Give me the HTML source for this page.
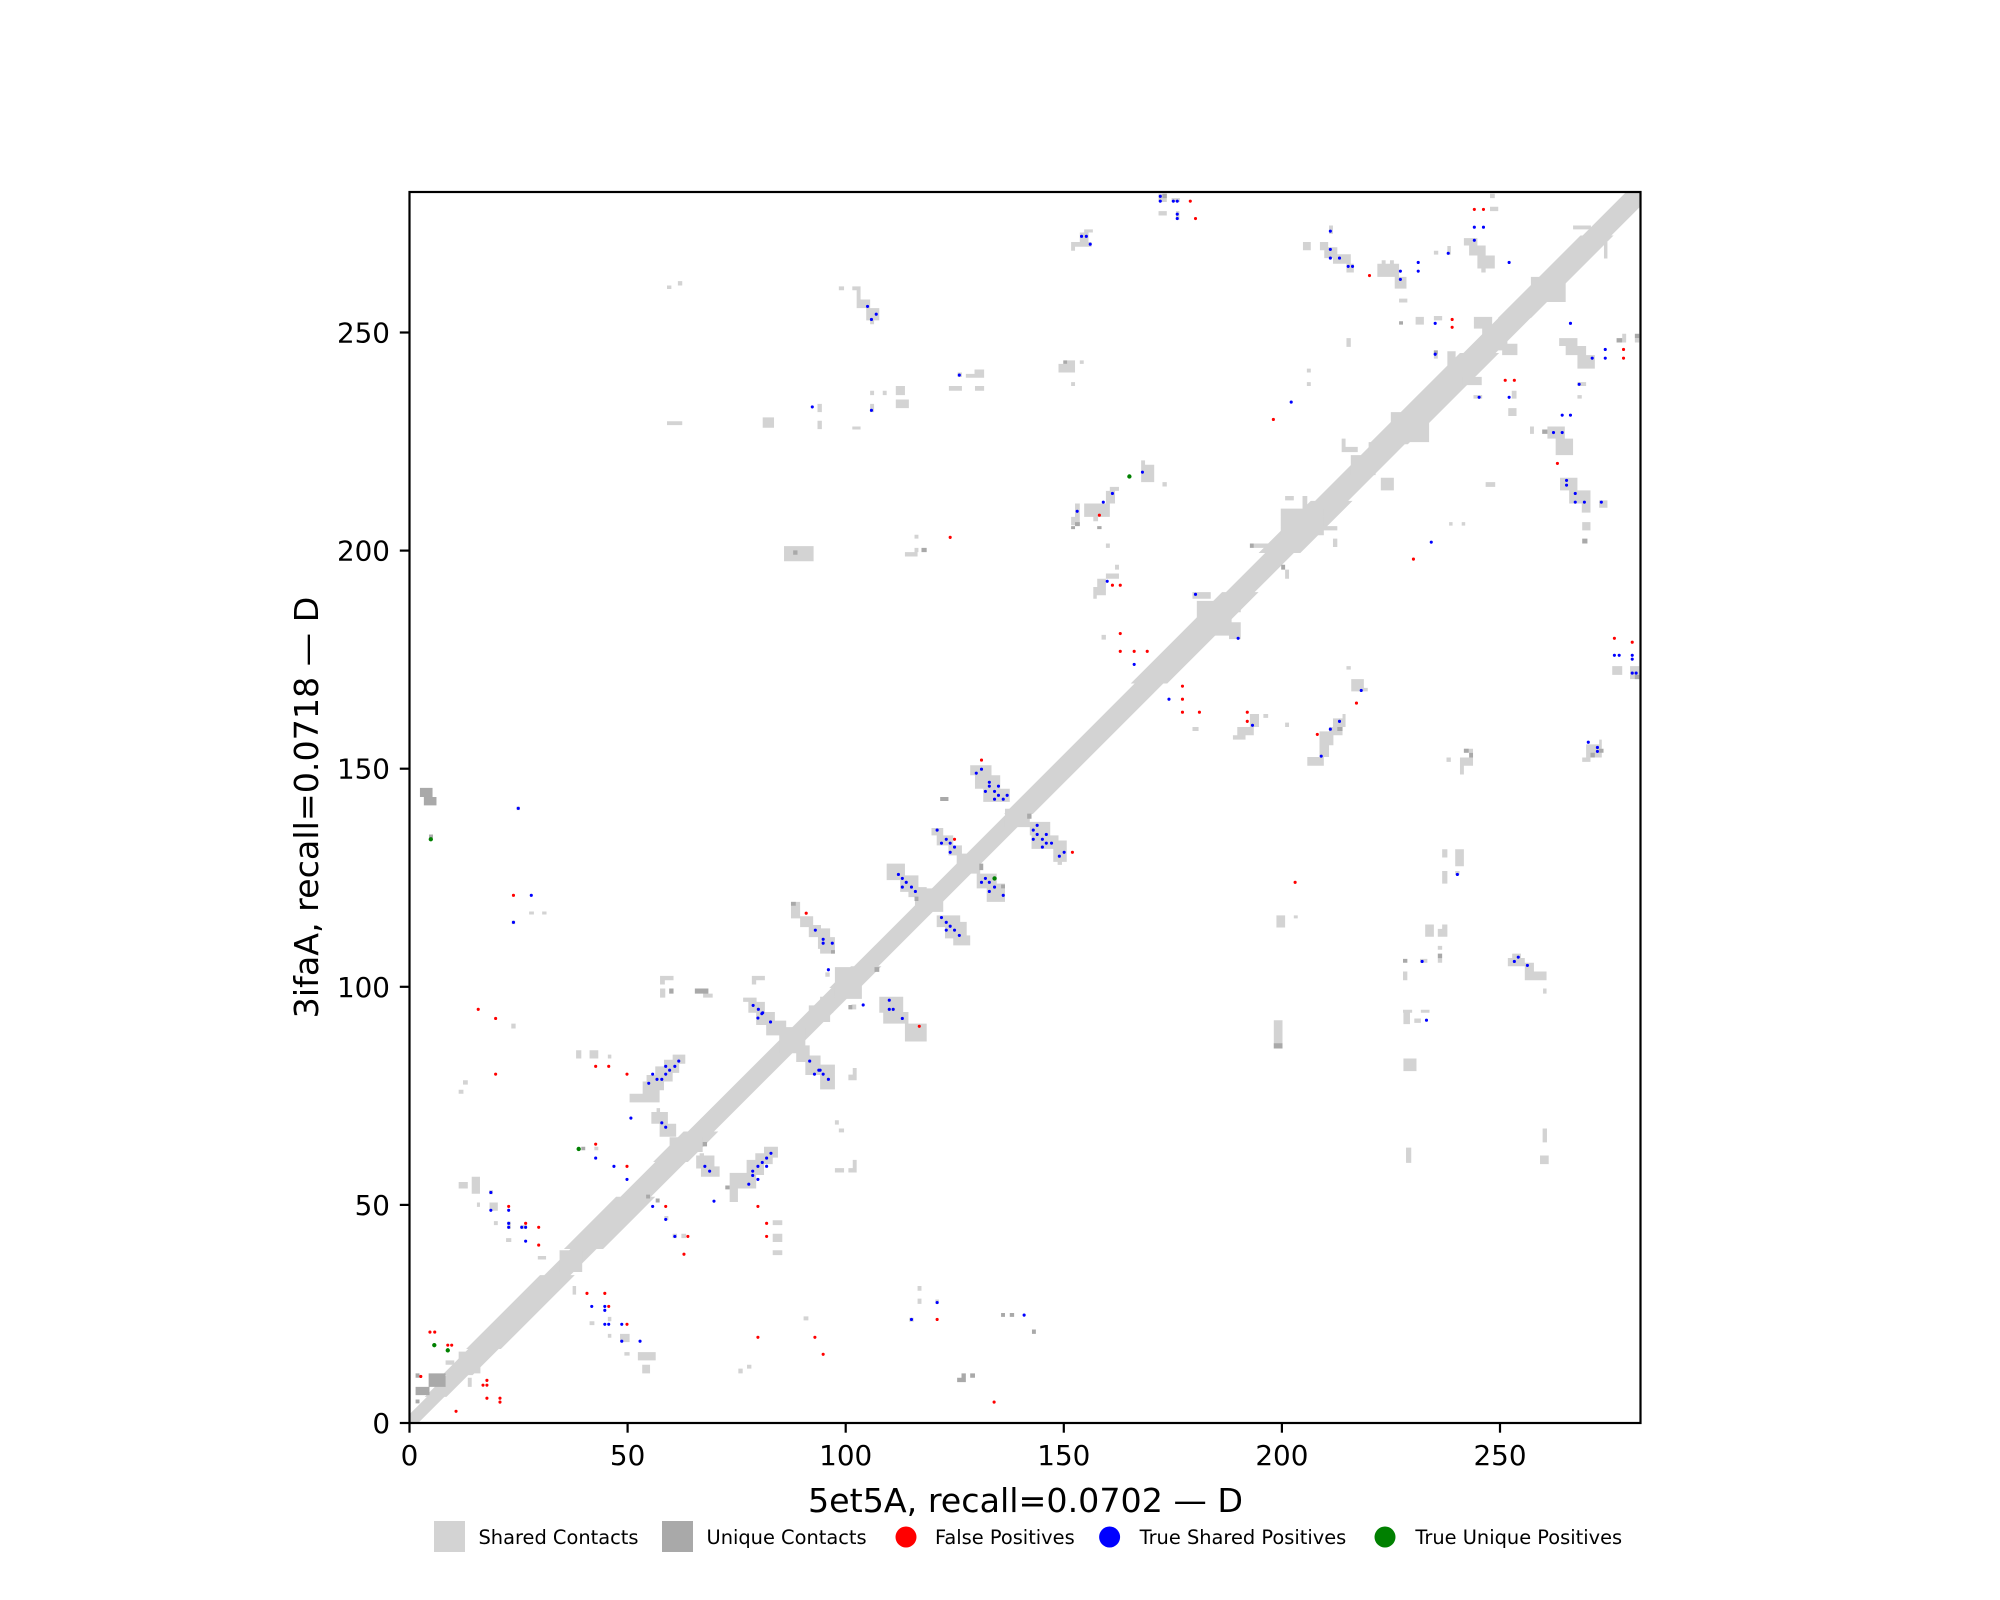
<!DOCTYPE html>
<html><head><meta charset="utf-8"><style>
html,body{margin:0;padding:0;background:#fff;}
svg{display:block;}
text{font-family:"DejaVu Sans","Liberation Sans",sans-serif;fill:#000;}
</style></head><body>
<svg width="2000" height="1600" viewBox="0 0 2000 1600" xmlns="http://www.w3.org/2000/svg">
<rect x="0" y="0" width="2000" height="1600" fill="#fff"/>
<defs><clipPath id="cp"><rect x="0" y="0" width="283" height="283"/></clipPath></defs>
<g transform="translate(409.5,1423) scale(4.34982,-4.34982)">
<g clip-path="url(#cp)">
<path fill="#d3d3d3" d="M2 0L8 6L8.5 6L13.5 11L14.5 11L20.5 17L21 17L38 34L37 34L43 40L44.5 40L56.5 52L55.5 52L63.5 60L64 60L71 67L70 67L103 100L103.5 100L108.5 105L107.8 105L142.8 140L143.3 140L173.3 170L174.2 170L195.2 191L194.3 191L203.3 200L204.8 200L216.8 212L215.8 212L228.8 225L229.5 225L250.5 246L249.7 246L257.7 254L257.8 254L276.8 273L276.3 273L286.3 283L279.7 283L269.7 273L269.2 273L250.2 254L250.3 254L242.3 246L241.5 246L220.5 225L221.2 225L208.2 212L207.2 212L195.2 200L196.7 200L187.7 191L186.8 191L165.8 170L166.7 170L136.7 140L137.2 140L102.2 105L101.5 105L96.5 100L97 100L64 67L63 67L56 60L56.5 60L48.5 52L47.5 52L35.5 40L37 40L31 34L30 34L13 17L13.5 17L7.5 11L8.5 11L3.5 6L4 6L-2 0Z"/>
<path fill="#d3d3d3" d="M11.3 11.4H16.3V16.4H11.3Z M34.5 34.7H39.7V39.7H34.5Z M59.8 62.3H67.4V65.7H59.8Z M97.8 97.5H104V104.8H97.8Z M116.2 117.5H122.7V122.9H116.2Z M125.8 126.3H131.2V130.9H125.8Z M136.9 137H142.6V141.2H136.9Z M181 181H189V189H181Z M200.3 204.1H210.2V210.2H200.3Z M216.4 217.9H222.1V222.5H216.4Z M225.6 225.5H234.4V232.4H225.6Z M246.6 246.6H252.4V251.6H246.6Z M257.8 257.7H265.8V263.5H257.8Z M85 85H91V91H85Z
M8.3 13.4H10.3V14.4H8.3Z M13.4 8.3H14.3V10.4H13.4Z M12.3 77.8H13.4V78.8H12.3Z M11.3 75.7H12.4V76.6H11.3Z M23.4 90.7H24.4V91.8H23.4Z M38.3 83.8H39.5V85.7H38.3Z M41.4 83.8H43.4V85.7H41.4Z M45.6 83.8H46.4V84.7H45.6Z M60.5 82.6H63.4V84.7H60.5Z M58.5 80.5H62V83.5H58.5Z M56.5 78.5H60.5V82H56.5Z M54.5 76.5H58.5V80H54.5Z M53.6 74.5H57.5V78.5H53.6Z M50.6 73.7H57.5V75.7H50.6Z M55.6 68.8H59.4V71.5H55.6Z M57.5 65.8H61.3V68.8H57.5Z M56.8 71.5H57.6V72.4H56.8Z M65.9 58.5H70.1V61.5H65.9Z M67 56.6H71.3V59H67Z M66.7 60.5H67.7V62H66.7Z M73.6 53.9H79.7V57.5H73.6Z M73.6 50.8H75.5V53.9H73.6Z M77.5 57H81.5V60.5H77.5Z M79.5 59.5H83.5V62H79.5Z M81.5 61H84.7V63.5H81.5Z M58.6 46.6H59.5V47.6H58.6Z M60.5 42.5H61.5V43.5H60.5Z M62.5 42.5H63.6V43.5H62.5Z M83.5 45.5H85.7V46.6H83.5Z M83.5 41.6H85.7V43.5H83.5Z M83.5 38.6H85.7V39.7H83.5Z M90.6 23.6H91.7V24.5H90.6Z M75.6 11.4H76.6V12.5H75.6Z M77.6 12.5H78.6V13.4H77.6Z M49.4 15.5H50.6V16.3H49.4Z M52.5 14.4H56.6V16.3H52.5Z M53.5 11.4H55.3V13.4H53.5Z M48.4 18.6H50.6V20.5H48.4Z M41.4 22.5H42.5V23.4H41.4Z M45.6 23.4H46.4V24.4H45.6Z M45.6 19.6H46.4V20.5H45.6Z M37.5 29.5H38.3V31.5H37.5Z M11.3 53.9H13.4V55.4H11.3Z M14.3 52.7H16.2V56.6H14.3Z M15.5 49.7H16.2V50.7H15.5Z M18.4 48.8H20.3V50.7H18.4Z M19.4 45.5H20.3V46.4H19.4Z M22.2 41.6H23.4V42.5H22.2Z M29.5 37.6H31.4V38.4H29.5Z M42.5 62.7H43.4V63.5H42.5Z M22.5 44.6H23.3V46.3H22.5Z M25.5 44.6H27V45.5H25.5Z M18.3 52.6H19.2V53.5H18.3Z M79.7 91.5H84V94.5H79.7Z M82 89.1H86.6V92.5H82Z M88.9 83H92V86.8H88.9Z M91 80H94.5V84.5H91Z
M27.5 116.9H28.6V117.6H27.5Z M30.5 116.9H31.5V117.6H30.5Z M87.7 116H89.8V119.8H87.7Z M89.8 114H92.8V116.5H89.8Z M91.8 111.7H94.6V114.5H91.8Z M93.9 109H94.6V111.7H93.9Z M57.6 101.8H60.7V102.8H57.6Z M57.6 100.8H58.7V101.8H57.6Z M57.6 97.8H58.8V99.9H57.6Z M67.5 97.8H68.7V99.9H67.5Z M68.7 97.8H69.7V98.7H68.7Z M78.7 101.8H81.7V102.8H78.7Z M78.7 100.8H79.7V101.8H78.7Z M76.7 96.8H79.8V97.8H76.7Z M77.9 94.3H81.7V96.8H77.9Z M91.8 94.3H94.6V96H91.8Z M24.6 140.9H25.4V141.7H24.6Z M23.5 114.7H24.3V115.5H23.5Z
M128.9 148.9H133.8V151.2H128.9Z M130 145.8H135.8V148.9H130Z M131.9 142.8H138V145.8H131.9Z M142.6 135.1H147.3V138.2H142.6Z M143 132H149.2V135.1H143Z M148 129H151.1V133.9H148Z M149 128.3H150V129H149Z M120 135.1H122.7V136.8H120Z M121.2 132.8H125V135.1H121.2Z M123.9 130.5H127V132.8H123.9Z M130.4 122.9H135V126.3H130.4Z M132.7 119.8H136.9V124H132.7Z M109.7 124.8H113.9V128.6H109.7Z M112.8 122.1H117V125.9H112.8Z M114.7 120.9H118.9V123.2H114.7Z M121.2 114H126.6V116.7H121.2Z M123.1 111.4H128.1V115.2H123.1Z M125 109.8H128.9V112.1H125Z M94.4 111H96.7V113.7H94.4Z M94.4 107.9H97.8V111.7H94.4Z M94.4 94.3H97.4V98H94.4Z M108 94.3H113.5V98H108Z M95.6 102.6H96.6V103.6H95.6Z M101.6 95.1H102.7V96.2H101.6Z M159.1 180.1H160.1V181.2H159.1Z M180 159.1H181.4V160H180Z
M94.4 92.2H96.7V94.5H94.4Z M108.9 91.8H114.7V94.5H108.9Z M113.9 87.7H118.9V91.8H113.9Z M94.4 76.7H97.8V82.4H94.4Z M100.9 78.8H102.8V80.1H100.9Z M101.9 80.1H102.8V81.6H101.9Z M97.8 68.6H98.7V69.6H97.8Z M98.7 66.8H99.9V67.7H98.7Z M97.8 57.6H99.9V58.6H97.8Z M100.9 57.6H102.8V58.6H100.9Z M101.9 58.6H102.8V60.5H101.9Z M116.8 30.4H117.7V31.5H116.8Z M116.8 27.4H117.7V28.6H116.8Z M120.9 27.4H121.7V28.4H120.9Z M114.9 23.3H115.9V24.2H114.9Z
M172.2 280.7H174.1V282.6H172.2Z M175.2 280.7H177.1V281.6H175.2Z M172.2 277.6H174.1V278.6H172.2Z M176.2 276.6H177V278.6H176.2Z M155.1 273.7H157.1V274.4H155.1Z M154.1 271.5H156.1V273.7H154.1Z M152.1 270.4H156.8V271.5H152.1Z M152.1 269.5H153V270.4H152.1Z M98.7 260.4H99.9V261.3H98.7Z M101.8 260.4H103.7V261.3H101.8Z M102.8 258.3H103.7V260.4H102.8Z M102.8 256.3H105.9V258.3H102.8Z M105 253.5H108V256.3H105Z M105.9 252.6H106.8V253.5H105.9Z M149.2 241.5H153V243.5H149.2Z M151.2 243.5H153V244.3H151.2Z M154.1 243.5H155V244.3H154.1Z M152.1 238.4H153V239.3H152.1Z M126 240.5H127V241.5H126Z M127.9 240.3H132.1V241.2H127.9Z M129.9 241.2H132.1V242.2H129.9Z M124 237.3H127V238.4H124Z M130 237.3H132.1V238.4H130Z M105.9 236.3H106.8V237.3H105.9Z M108.8 236.3H109.7V237.3H108.8Z M111.8 236.3H113.9V238.4H111.8Z M111.8 233.3H114.8V235.3H111.8Z M105.9 232.4H106.8V234.3H105.9Z M101.8 228.4H103.7V229.1H101.8Z M168.2 216.3H171.2V220.3H168.2Z M168.2 220.3H169.1V221.3H168.2Z M173.1 215.3H174.1V216.3H173.1Z M161 214.3H163.1V215.2H161Z M160.1 211.4H162.2V214.3H160.1Z M155.1 208.3H161V211.4H155.1Z M153 208.3H154.1V211.4H153Z M152.1 206.4H154.1V208.3H152.1Z M157.2 207.3H158.3V208.3H157.2Z M160.1 201.2H161V202.2H160.1Z M116.1 203.3H117V204.2H116.1Z M113.9 199.2H116.8V200.2H113.9Z M116.1 200.2H117V201.2H116.1Z M162.2 196.2H163.1V197.3H162.2Z M160.1 194.1H163.1V195.3H160.1Z M158.1 192.2H160.1V194.1H158.1Z M157.2 190.3H160.1V192.2H157.2Z M157.2 189.5H158V190.3H157.2Z M180 189.5H184.2V191H180Z
M248.4 281.6H249.5V282.6H248.4Z M248.4 278.6H250.3V279.6H248.4Z M242.4 270.7H245.5V272.4H242.4Z M243.6 268.4H247.4V270.7H243.6Z M245.5 265.4H249.5V268.4H245.5Z M246.4 264.5H247.4V265.4H246.4Z M205.4 269.6H207.2V271.5H205.4Z M209.3 269.6H211.2V271.5H209.3Z M211.4 273.4H212.3V275.3H211.4Z M210.3 267.8H213.3V270.3H210.3Z M212.3 266.5H216.4V268.7H212.3Z M215.4 264.5H217.1V266.5H215.4Z M222.5 263.5H227.5V266.5H222.5Z M223.5 266.5H224.4V267.3H223.5Z M225.4 266.5H226.3V267.3H225.4Z M226.5 260.8H229.2V263.5H226.5Z M227.5 257.6H229.4V258.5H227.5Z M238.6 268.6H239.4V270.6H238.6Z M235.5 268.6H236.5V269.5H235.5Z M231.3 252.5H233.2V254.3H231.3Z M235.5 253.5H237.4V254.5H235.5Z M215.4 247.4H216.4V249.4H215.4Z M235.5 244.7H236.4V246.6H235.5Z M206.3 241.5H207.2V242.4H206.3Z M206.3 238.4H207.2V239.3H206.3Z M238.6 242.4H240.5V246.4H238.6Z M242 238.6H246.5V240.5H242Z M244.6 235.5H246.6V236.3H244.6Z M253.4 235.5H254.5V237.3H253.4Z M252.6 231.5H254.5V233.3H252.6Z M264.3 247.6H268.5V249.4H264.3Z M265.8 245.5H270.5V247.6H265.8Z M268.5 242.4H272.5V245.5H268.5Z M278.8 248.4H279.7V250.4H278.8Z M281.7 248.4H282.7V249.4H281.7Z M268.5 238.4H270.5V239.3H268.5Z M268.5 235.5H269.5V236.3H268.5Z M257.6 227.4H258.5V229.1H257.6Z M261.6 226.3H265.6V229.1H261.6Z M263.5 222.5H267.5V226.3H263.5Z M264.5 214.4H268.5V217.3H264.5Z M266.6 211.4H271.5V214.4H266.6Z M269.5 209.3H271.5V211.4H269.5Z M273.5 210.4H275.4V212.1H273.5Z M247.4 215.2H249.6V216.3H247.4Z M201.3 212.1H203.3V213.1H201.3Z M205.3 208.3H206.4V213.1H205.3Z M209.1 205.2H213.3V206.2H209.1Z M212.3 201.4H213.3V203.3H212.3Z M239 206.3H239.8V207.1H239Z M241.9 206.3H242.7V207.1H241.9Z M269.6 205.2H271.5V207.1H269.6Z M267.5 274.4H271.6V275.3H267.5Z M274.6 267.7H275.4V271.5H274.6Z M214.3 223.2H215.2V226.3H214.3Z M214.3 223.2H218V224.4H214.3Z M220.5 223H221.5V225.5H220.5Z M223.3 214.4H226.3V217.3H223.3Z M194.1 201.2H198.3V202.2H194.1Z M201.3 194.1H202.2V196.2H201.3Z M244.7 251.6H248.9V254.3H244.7Z M251.2 245.5H254.7V248.1H251.2Z
M188.4 186.4H191.1V188.8H188.4Z M188.4 180.2H191.1V184.1H188.4Z M215.4 173.2H216.4V174H215.4Z M216.5 168.2H219.4V171H216.5Z M219.4 168.2H220.3V169H219.4Z M193.2 160H195.3V163H193.2Z M190.3 158.1H194.1V160H190.3Z M189.3 157.1H192.2V158.1H189.3Z M196.3 162.1H197.4V163H196.3Z M201.3 160H202.2V161H201.3Z M214.5 161H215.2V163H214.5Z M212.3 160H215.2V162H212.3Z M211.4 158.1H214.5V160H211.4Z M209.2 155.8H212.4V159H209.2Z M209.2 153.1H211.4V155.8H209.2Z M206.4 151.1H210.2V153.1H206.4Z M242.4 154.1H244.5V155H242.4Z M241.5 151.1H244.5V153H241.5Z M241.5 149.1H242.4V151.1H241.5Z M238.4 152H239.4V153H238.4Z M270.5 153H274.1V156H270.5Z M269.6 152H271.5V153H269.6Z M273.5 156H274.1V157.1H273.5Z M276.5 172H278.8V174H276.5Z M280.6 171H282.7V174H280.6Z M237.4 130H238.6V131.9H237.4Z M240.4 128H242.4V131.9H240.4Z M237.4 124H238.6V126.9H237.4Z M240.4 126H241.4V126.9H240.4Z M199.3 113.9H201.3V116.7H199.3Z M203.3 116H204.2V116.7H203.3Z M233.5 111.8H235.5V114.6H233.5Z M236.4 111.8H238.6V113.6H236.4Z M237.4 113.6H238.6V114.6H237.4Z M236.4 108.8H237.4V109.7H236.4Z M236.4 105.8H237.4V106.7H236.4Z M232.3 105.8H234V106.7H232.3Z M228.4 101.8H229.4V103.8H228.4Z M228.4 94.3H230.5V95H228.4Z M232.5 94.3H234.5V95H232.5Z M253.5 106.8H255.5V107.9H253.5Z M252.5 105H256.4V106.9H252.5Z M256.4 102.9H258.5V105.8H256.4Z M256.4 101.8H261.4V103.8H256.4Z M260.6 98.7H261.4V99.9H260.6Z
M59.2 260.7H60.2V261.5H59.2Z M61.7 261.5H62.7V262.5H61.7Z M81.2 228.8H83.8V231.2H81.2Z M86.1 198.1H92.9V201.6H86.1Z M59.2 229.4H62.7V230.3H59.2Z M93.8 232.4H94.8V234.3H93.8Z M93.8 228.5H94.8V230.4H93.8Z M198.7 86.1H200.7V92.6H198.7Z M228.5 80.9H231.5V83.8H228.5Z M228.5 91.7H230V94.3H228.5Z M231 92H232.5V93H231Z M259.9 59.5H261.9V61.5H259.9Z M260.5 64.5H261.5V67.7H260.5Z M229.1 59.8H230.3V63.3H229.1Z"/>
<path fill="#a9a9a9" d="M1.4 6.4H4.6V8.3H1.4Z M4.4 8.3H8.3V11.4H4.4Z M1.4 10.4H2.3V11.4H1.4Z M1.4 4.5H2.3V5.4H1.4Z M39.5 62.7H40.4V63.5H39.5Z M67.4 63.6H68.4V64.6H67.4Z M54.4 51.6H55.3V52.5H54.4Z M56.6 50.7H57.5V51.6H56.6Z M72.6 53.7H73.6V54.6H72.6Z M2.4 143.9H5.3V146H2.4Z M3.3 142H6.2V143.9H3.3Z M87.7 118.9H88.8V119.8H87.7Z M59.7 98.7H60.7V99.9H59.7Z M65.6 98.7H68.7V99.9H65.6Z M4.5 134.5H5.4V135.3H4.5Z M122 143H123.9V143.9H122Z M142 138.9H143V140.1H142Z M116.1 120H117V121H116.1Z M106.9 103.7H108V104.8H106.9Z M96.9 107.9H97.8V108.7H96.9Z M100.9 95.1H101.8V96.1H100.9Z M131 127.1H131.9V128.6H131Z M136 122.9H136.9V123.8H136Z M136 24.4H136.9V25.3H136Z M138 24.4H139V25.3H138Z M143.1 20.5H144V21.5H143.1Z M125.9 9.4H127.9V10.4H125.9Z M126.9 10.4H127.9V11.4H126.9Z M128.9 10.4H130V11.4H128.9Z M173.1 281.6H174.1V282.6H173.1Z M150.3 243.5H151.2V244.3H150.3Z M153 206.2H154.1V207.1H153Z M152.1 205.5H153V206.2H152.1Z M158.1 205.5H159.1V206.2H158.1Z M117.7 200.2H118.9V201.2H117.7Z M227.5 252.5H228.4V253.3H227.5Z M235.5 245.7H236.4V246.6H235.5Z M277.5 248.4H278.8V249.4H277.5Z M281.7 249.4H282.7V250.4H281.7Z M260.4 227.4H261.6V228.4H260.4Z M269.6 202.2H270.8V203.3H269.6Z M193.2 201.2H194.1V202.2H193.2Z M200.4 196.2H201.3V197.3H200.4Z M213.3 159.1H214.5V160H213.3Z M242.4 154.1H243.5V155H242.4Z M243.6 153H244.5V154.1H243.6Z M271.5 153H272.5V154.1H271.5Z M273.5 154.1H274.5V155H273.5Z M281.7 171H282.7V172H281.7Z M236.4 106.8H237.4V107.9H236.4Z M228.4 105.8H229.4V106.7H228.4Z M88.2 199.6H89.2V200.6H88.2Z M198.7 86.1H200.7V87.3H198.7Z"/>
<path fill="none" stroke="#ff0000" stroke-width="0.72" stroke-linecap="round" d="M19.8 93h0M19.8 80.2h0M42.8 82h0M45.8 82h0M50 80.2h0M42.8 64.1h0M50 59h0M22.8 49.8h0M26.7 45.9h0M29.7 45h0M29.7 40.9h0M58.9 49.8h0M64 42.9h0M63.1 38.8h0M80.1 49.8h0M82.1 45.9h0M82.1 42.9h0M40.8 29.8h0M44.9 29.8h0M45.8 26.8h0M50 22.7h0M80.1 19.7h0M93.2 19.7h0M4.7 20.9h0M5.8 20.9h0M8.8 17.9h0M9.7 17.9h0M2.6 10.7h0M17.8 9.8h0M16.9 8.7h0M17.8 8.7h0M17.8 5.7h0M20.8 5.7h0M20.8 4.8h0M10.7 2.7h0M131.5 152.4h0M125.3 134.2h0M152.4 131.2h0M163.4 181.5h0M163.4 177.4h0M166.6 177.4h0M169.6 177.4h0M177.7 169.4h0M177.7 166.4h0M177.7 163.4h0M181.6 163.4h0M244.8 279h0M246.9 279h0M220.7 263.8h0M239.7 253.7h0M239.7 251.9h0M279.1 246.8h0M279.1 244.8h0M251.9 239.7h0M254 239.7h0M198.6 230.7h0M263.9 220.6h0M230.8 198.6h0M117.2 91.2h0M121.3 23.8h0M95.1 15.8h0M134.4 4.8h0M23.9 121.3h0M15.8 95.1h0M91.2 117.2h0M179.5 280.9h0M180.7 276.9h0M158.6 208.7h0M124.3 203.6h0M161.6 192.6h0M163.4 192.6h0M217.7 165.5h0M192.6 163.4h0M192.6 161.3h0M208.7 158.3h0M277 180.4h0M281.1 179.5h0M203.6 124.3h0"/>
<path fill="none" stroke="#0000ff" stroke-width="0.72" stroke-linecap="round" d="M80.1 93.1h0M81 94.1h0M83 92.2h0M92 83.2h0M93.1 80.2h0M94.1 81.1h0M61.9 83.2h0M61 82h0M58.9 82h0M59.8 81.1h0M58.9 80.2h0M55.9 80.2h0M56.9 79h0M58 79h0M55 78.1h0M50.9 70.1h0M58 69h0M58.9 68h0M42.8 60.9h0M47 59h0M50 56h0M67.9 59h0M69 57.9h0M83.1 62h0M82.1 60.9h0M81.1 59.9h0M80.1 59h0M82.1 59h0M78.9 57.9h0M78.9 56.9h0M80.1 56h0M78 54.9h0M70 51h0M55.9 49.8h0M58.9 46.8h0M61 42.9h0M18.7 53h0M18.7 48.9h0M22.8 48.9h0M22.8 45.9h0M22.8 45h0M25.8 45h0M26.7 45h0M26.7 41.8h0M41.9 26.8h0M44.9 26.8h0M44.9 25.9h0M44.9 22.7h0M45.8 22.7h0M48.8 22.7h0M48.8 18.8h0M53 18.8h0
M166.6 174.4h0M174.6 166.4h0M131.5 150.3h0M130.3 149.4h0M133.3 147.3h0M133.3 146.4h0M135.4 146.4h0M132.4 145.2h0M134.5 145.2h0M135.4 144.3h0M137.4 144.3h0M134.5 143.4h0M136.5 143.4h0M144.3 137.4h0M143.4 136.3h0M144.3 135.3h0M146.4 135.3h0M143.4 134.2h0M145.5 134.2h0M146.4 133.3h0M147.6 133.3h0M145.5 132.4h0M150.5 131.2h0M149.4 130.3h0M121.3 136.3h0M123.4 134.2h0M122.3 133.3h0M124.3 133.3h0M125.3 132.4h0M124.3 131.2h0M132.4 125.2h0M131.5 124.3h0M133.3 124.3h0M134.5 123.2h0M133.3 122.2h0M136.5 121.3h0M112.4 126.1h0M113.3 125.2h0M114.2 124.3h0M113.3 123.2h0M115.4 123.2h0M116.3 122.2h0M122.3 116.2h0M123.4 115.1h0M124.3 114.2h0M123.4 113.3h0M125.3 113.3h0M126.4 112.1h0M95.1 111.2h0M95.1 110.3h0M97.2 110.3h0M96.3 104.2h0M104.3 96.1h0M110.3 97.2h0M110.3 95.1h0M111.2 95.1h0
M211.7 274h0M211.7 269.8h0M211.7 267.8h0M213.8 267.8h0M215.8 265.9h0M216.8 265.9h0M227.8 264.8h0M227.8 262.9h0M231.9 266.8h0M231.9 264.8h0M238.8 268.9h0M244.8 274.9h0M246.9 274.9h0M244.8 271.9h0M252.8 266.8h0M235.8 252.8h0M235.8 245.7h0M266.9 252.8h0M274.9 246.8h0M271.9 244.8h0M274.9 244.8h0M268.9 238.8h0M245.9 235.8h0M252.8 235.8h0M265 231.7h0M266.9 231.7h0M263 227.7h0M265 227.7h0M266 216.7h0M266 215.6h0M268 213.7h0M268 211.7h0M270.1 211.7h0M274 211.7h0M202.7 234.7h0M234.9 202.5h0
M113.3 93h0M94.4 81.1h0M95.1 80.2h0M96.3 79h0M121.3 27.7h0M115.4 23.8h0M141.3 24.8h0M25 141.3h0M28 121.3h0M23.9 115.1h0M93.3 113.3h0M79 96h0M80.2 95.1h0M81.2 94.3h0
M172.6 282h0M172.6 280.9h0M175.6 280.9h0M176.5 280.9h0M176.5 277.9h0M176.5 276.9h0M154.5 272.8h0M155.6 272.8h0M156.5 271h0M105.3 256.7h0M107.3 254.9h0M106.2 253.7h0M126.4 240.9h0M106.2 232.8h0M168.5 218.6h0M161.6 213.7h0M159.5 211.7h0M153.5 209.6h0M160.4 193.5h0M180.7 190.5h0
M190.5 180.4h0M218.8 168.4h0M193.8 160.4h0M213.8 161.3h0M211.7 159.5h0M209.6 153.3h0M277 176.5h0M278.1 176.5h0M281.1 176.5h0M281.1 175.6h0M281.1 172.4h0M282 172.4h0M271 156.5h0M273.1 155.3h0M273.1 154.4h0M240.9 126.1h0M232.8 106.1h0M254.9 107.1h0M254 106.1h0M257 105.2h0M92.6 233.6h0M233.8 92.6h0"/>
<path fill="none" stroke="#008000" stroke-width="1" stroke-linecap="round" d="M38.9 63h0M5.7 17.9h0M8.8 16.7h0M4.9 134.2h0M134.5 125.2h0M165.5 217.6h0"/>
</g>
</g>
<!-- axes frame -->
<rect x="409.5" y="192" width="1231" height="1231" fill="none" stroke="#000" stroke-width="2.2"/>
<!-- ticks -->
<g stroke="#000" stroke-width="2.2">
<line x1="409.5" y1="1423" x2="409.5" y2="1432.7"/>
<line x1="627.6" y1="1423" x2="627.6" y2="1432.7"/>
<line x1="845.7" y1="1423" x2="845.7" y2="1432.7"/>
<line x1="1063.8" y1="1423" x2="1063.8" y2="1432.7"/>
<line x1="1281.9" y1="1423" x2="1281.9" y2="1432.7"/>
<line x1="1500" y1="1423" x2="1500" y2="1432.7"/>
<line x1="399.8" y1="1423" x2="409.5" y2="1423"/>
<line x1="399.8" y1="1204.9" x2="409.5" y2="1204.9"/>
<line x1="399.8" y1="986.8" x2="409.5" y2="986.8"/>
<line x1="399.8" y1="768.7" x2="409.5" y2="768.7"/>
<line x1="399.8" y1="550.6" x2="409.5" y2="550.6"/>
<line x1="399.8" y1="332.5" x2="409.5" y2="332.5"/>
</g>
<g font-size="27.8" text-anchor="middle">
<text x="409.5" y="1465">0</text>
<text x="627.6" y="1465">50</text>
<text x="845.7" y="1465">100</text>
<text x="1063.8" y="1465">150</text>
<text x="1281.9" y="1465">200</text>
<text x="1500" y="1465">250</text>
</g>
<g font-size="27.8" text-anchor="end">
<text x="390" y="1433">0</text>
<text x="390" y="1214.9">50</text>
<text x="390" y="996.8">100</text>
<text x="390" y="778.7">150</text>
<text x="390" y="560.6">200</text>
<text x="390" y="342.5">250</text>
</g>
<text x="1025.5" y="1512" font-size="33.3" text-anchor="middle">5et5A, recall=0.0702 — D</text>
<text transform="translate(318,807.5) rotate(-90)" x="0" y="0" font-size="33.3" text-anchor="middle">3ifaA, recall=0.0718 — D</text>
<!-- legend -->
<rect x="434" y="1521" width="31" height="31" fill="#d3d3d3"/>
<text x="478.5" y="1544" font-size="19.4">Shared Contacts</text>
<rect x="662" y="1521" width="31" height="31" fill="#a9a9a9"/>
<text x="706.5" y="1544" font-size="19.4">Unique Contacts</text>
<circle cx="906" cy="1537" r="10.5" fill="#ff0000"/>
<text x="935" y="1544" font-size="19.4">False Positives</text>
<circle cx="1109.6" cy="1537" r="10.5" fill="#0000ff"/>
<text x="1139.6" y="1544" font-size="19.4">True Shared Positives</text>
<circle cx="1385" cy="1537" r="10.5" fill="#008000"/>
<text x="1415.4" y="1544" font-size="19.4">True Unique Positives</text>
</svg>
</body></html>
